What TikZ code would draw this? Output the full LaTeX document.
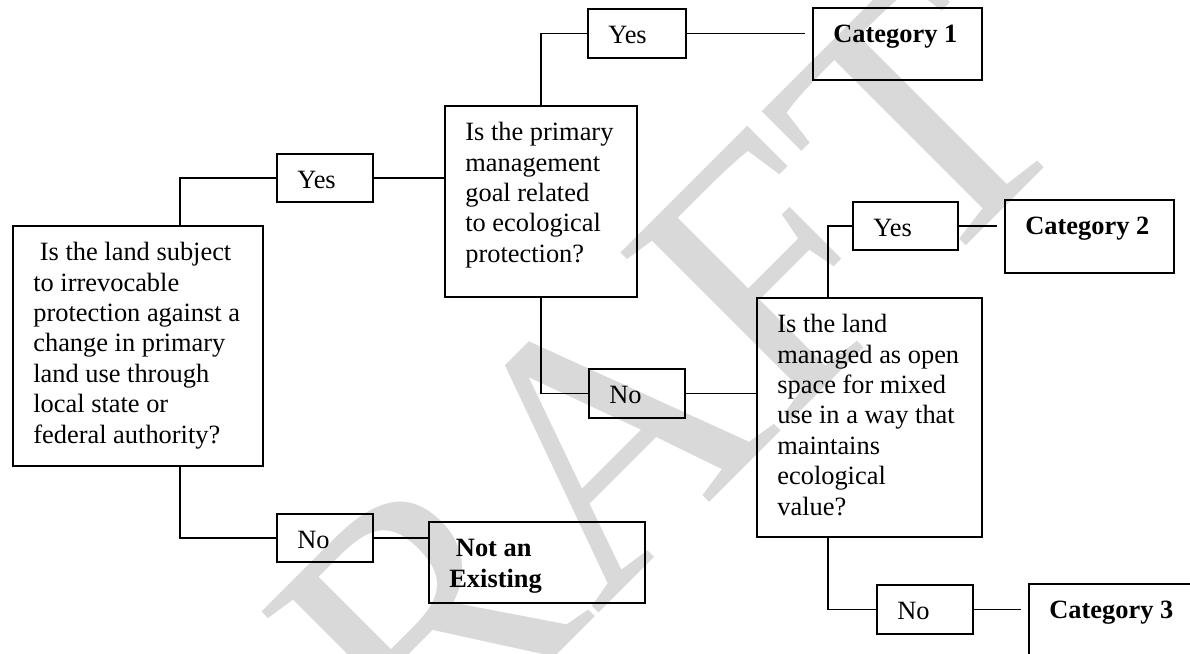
\documentclass[tikz,border=0pt]{standalone}
\usepackage{fontspec}
\setmainfont{Liberation Serif}
\tikzset{
    x=0.4545pt, y=-0.4545pt, % one unit is one pixel of the sketch, y grows downwards
    qbox/.style={draw, rectangle, line width=0.8pt, anchor=north west, inner sep=0pt, font=\fontsize{12}{13.8}\selectfont}, % every text box
    link/.style={line width=0.8pt}, % plain connector
    catlink/.style={link, shorten >=3.2pt}, % connector that stops short of a category box
    watermark/.style={text=black!15, font=\fontsize{166}{166}\selectfont, inner sep=0pt, rotate=45, anchor=base west},
}
% text of a box: width, height, lines
\newcommand{\boxtext}[3]{\parbox[t][#2][t]{#1}{\raggedright\leftskip=9.3pt\rule{0pt}{15.9pt}#3}}

\begin{document}
\begin{tikzpicture}

        \useasboundingbox (0,0) rectangle (1190,653);
        \clip (0,0) rectangle (1190,653);

        % watermark
        \node[watermark] (draftmark) at (237,975) {DRAFT};

        % Nodes
        \node[qbox] (q1) at (12,225) {\boxtext{113.6pt}{109.1pt}{\ Is the land subject\\
            to irrevocable\\
            protection against a\\
            change in primary\\
            land use through\\
            local state or\\
            federal authority?}};
        \node[qbox] (yes1) at (276,153) {\boxtext{43.6pt}{21.8pt}{Yes}};
        \node[qbox] (no0) at (276,513) {\boxtext{43.6pt}{21.8pt}{No}};
        \node[qbox] (notex) at (428,521) {\boxtext{98.2pt}{36.8pt}{\textbf{\ Not an}\\
            \textbf{Existing}}};
        \node[qbox] (q2) at (444,105) {\boxtext{87.3pt}{86.8pt}{Is the primary\\
            management\\
            goal related\\
            to ecological\\
            protection?}};
        \node[qbox] (yes2) at (587,8) {\boxtext{44.5pt}{22.3pt}{Yes}};
        \node[qbox] (cat1) at (812,7) {\boxtext{76.8pt}{32.7pt}{\textbf{Category 1}}};
        \node[qbox] (no1) at (588,368) {\boxtext{43.6pt}{22.3pt}{No}};
        \node[qbox] (q3) at (756,297) {\boxtext{102.3pt}{108.6pt}{Is the land\\
            managed as open\\
            space for mixed\\
            use in a way that\\
            maintains\\
            ecological\\
            value?}};
        \node[qbox] (yes3) at (852,201) {\boxtext{47.7pt}{21.8pt}{Yes}};
        \node[qbox] (cat2) at (1004,199) {\boxtext{76.8pt}{33.2pt}{\textbf{Category 2}}};
        \node[qbox] (no2) at (876,584) {\boxtext{43.6pt}{22.3pt}{No}};
        \node[qbox] (cat3) at (1028,583) {\boxtext{90.9pt}{54.5pt}{\textbf{Category 3}}};

        % edges
        \draw[link] (yes1.west) -| ([xshift=76.4pt]q1.north west);
        \draw[link] ([xshift=76.4pt]q1.south west) |- (no0.west);
        \draw[link] (no0.east) -- (no0.east -| notex.west);
        \draw[link] (yes1.east) -- (yes1.east -| q2.west);
        \draw[link] (q2.north) |- (yes2.west);
        \draw[catlink] (yes2.east) -- (yes2.east -| cat1.west);
        \draw[link] (q2.south) |- (no1.west);
        \draw[link] (no1.east) -- (no1.east -| q3.west);
        \draw[link] ([xshift=32.7pt]q3.north west) |- (yes3.west);
        \draw[catlink] (yes3.east) -- (yes3.east -| cat2.west);
        \draw[link] ([xshift=32.7pt]q3.south west) |- (no2.west);
        \draw[catlink] (no2.east) -- (no2.east -| cat3.west);
    \end{tikzpicture}
\end{document}
